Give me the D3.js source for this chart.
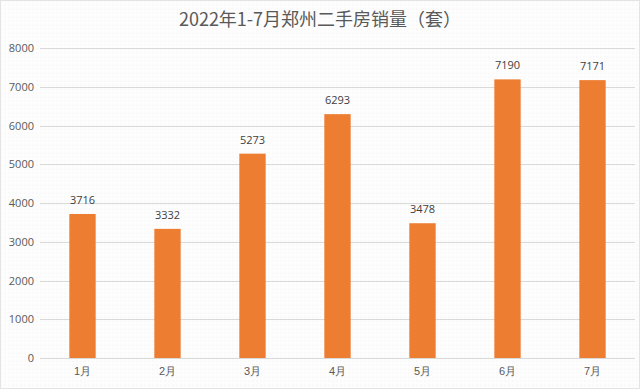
<!DOCTYPE html>
<html>
<head>
<meta charset="utf-8">
<script src="https://cdn.jsdelivr.net/npm/d3@7"></script>
<style>
  html, body { margin: 0; padding: 0; background: #fff; }
  svg { display: block; font-family: "Noto Sans CJK SC", "Noto Sans", sans-serif; }
</style>
</head>
<body>
<svg id="chart" width="640" height="389"></svg>
<script>
const months = ['1月', '2月', '3月', '4月', '5月', '6月', '7月']
const sales = [3716, 3332, 5273, 6293, 3478, 7190, 7171]
const yTicks = [0, 1000, 2000, 3000, 4000, 5000, 6000, 7000, 8000]
const title = '2022年1-7月郑州二手房销量（套）'

const width = 640, height = 389
const margin = { top: 48, right: 5, bottom: 31, left: 40 }

const svg = d3.select('#chart')

// faint dotted background like the source
const defs = svg.append('defs')
const pat = defs.append('pattern')
  .attr('id', 'dots')
  .attr('width', 4).attr('height', 4)
  .attr('patternUnits', 'userSpaceOnUse')
pat.append('rect').attr('width', 4).attr('height', 4).attr('fill', '#fdfdfd')
pat.append('circle').attr('cx', 1).attr('cy', 1).attr('r', 0.6).attr('fill', '#efefef')

svg.append('rect')
  .attr('x', 0.5).attr('y', 0.5)
  .attr('width', width - 1).attr('height', height - 1)
  .attr('fill', 'url(#dots)')
  .attr('stroke', '#e4e4e4')

// scales
const xScale = d3.scaleBand()
  .domain(months)
  .range([margin.left, width - margin.right])
  .paddingInner(0.69)
  .paddingOuter(0.345)

const yScale = d3.scaleLinear()
  .domain([0, 8000])
  .range([height - margin.bottom, margin.top])

// gridlines
svg.append('g')
  .selectAll('line')
  .data(yTicks)
  .join('line')
  .attr('x1', margin.left)
  .attr('x2', width - margin.right)
  .attr('y1', d => Math.round(yScale(d)) + 0.5)
  .attr('y2', d => Math.round(yScale(d)) + 0.5)
  .attr('stroke', '#d9d9d9')
  .attr('stroke-width', 1)

// y axis
const yAxis = d3.axisLeft(yScale).tickValues(yTicks).tickFormat(d3.format('d')).tickSize(0).tickPadding(6)
const yAxisGroup = svg.append('g')
  .attr('transform', `translate(${margin.left}, 0)`)
  .call(yAxis)
yAxisGroup.select('.domain').remove()
yAxisGroup.selectAll('text')
  .attr('fill', '#595959')
  .style('font-size', '11px')
  .style('font-family', '"Open Sans", "Noto Sans", sans-serif')

// x axis
const xAxis = d3.axisBottom(xScale).tickSize(0).tickPadding(9)
const xAxisGroup = svg.append('g')
  .attr('transform', `translate(0, ${height - margin.bottom})`)
  .call(xAxis)
xAxisGroup.select('.domain').remove()
xAxisGroup.selectAll('text')
  .attr('fill', '#595959')
  .style('font-size', '11px')

// bars
svg.selectAll('.bar')
  .data(sales)
  .join('rect')
  .attr('class', 'bar')
  .attr('x', (v, i) => xScale(months[i]))
  .attr('y', v => yScale(v))
  .attr('width', xScale.bandwidth())
  .attr('height', v => yScale(0) - yScale(v))
  .attr('fill', '#ED7D31')

// value labels
svg.selectAll('.label')
  .data(sales)
  .join('text')
  .attr('class', 'label')
  .attr('x', (v, i) => xScale(months[i]) + xScale.bandwidth() / 2)
  .attr('y', v => yScale(v) - 10)
  .attr('text-anchor', 'middle')
  .attr('fill', '#404040')
  .style('font-size', '11px')
  .style('font-family', '"Open Sans", "Noto Sans", sans-serif')
  .text(v => v)

// title
svg.append('text')
  .attr('x', width / 2)
  .attr('y', 26)
  .attr('text-anchor', 'middle')
  .attr('fill', '#595959')
  .style('font-size', '18px')
  .text(title)
</script>
</body>
</html>
